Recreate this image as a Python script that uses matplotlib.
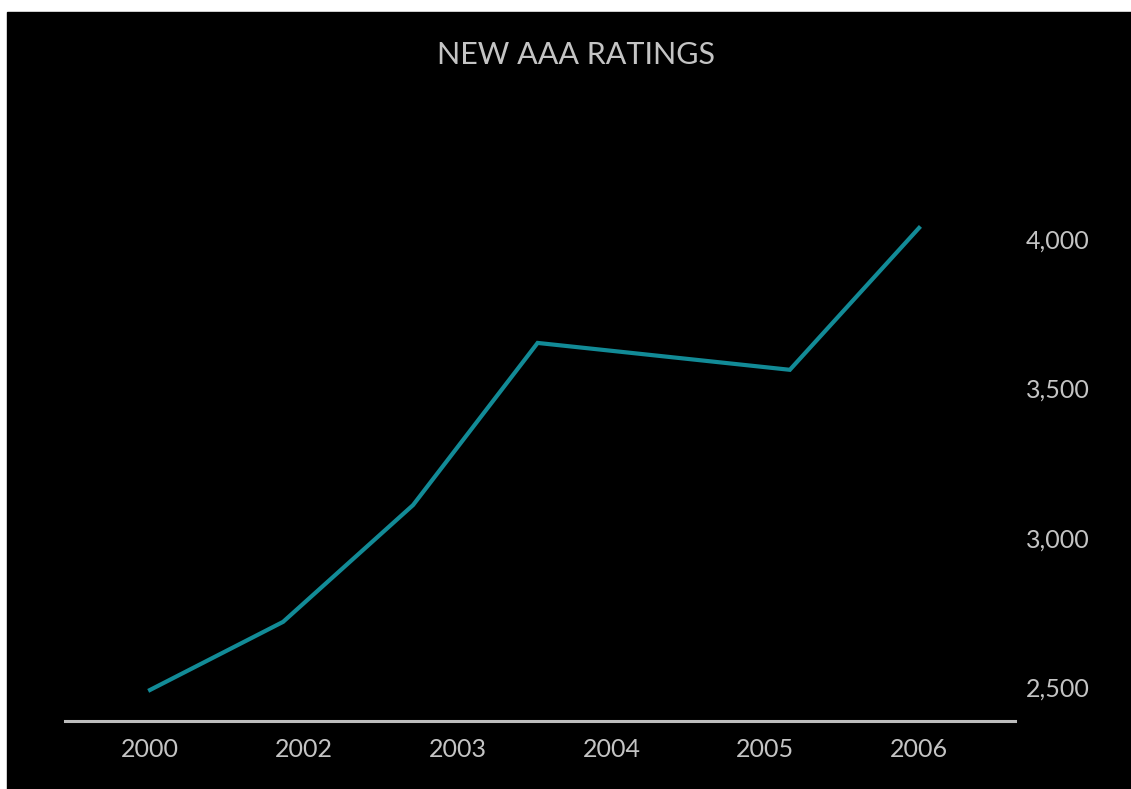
import matplotlib
matplotlib.use("Agg")
import matplotlib.pyplot as plt
from matplotlib.patches import Rectangle

plt.rcParams["font.family"] = ["Lato", "DejaVu Sans"]

# 新 AAA 评级数量（按年份刻度位置）
year_labels = ["2000", "2002", "2003", "2004", "2005", "2006"]
x_pos = [0.0, 0.865, 1.71, 2.52, 4.16, 5.0]
ratings = [2490, 2718, 3109, 3652, 3562, 4037]
y_ticks = [2500, 3000, 3500, 4000]

TEXT = "#c4c4c4"
LINE = "#128b97"

fig = plt.figure(figsize=(11.31, 7.89), dpi=100, facecolor="white")
# 黑色背景（左、上留白边），放在坐标轴下面
fig.patches.append(Rectangle((7 / 1131, 0), 1, 1 - 12 / 789,
                             transform=fig.transFigure, color="black", zorder=-10))

ax = fig.add_axes([65 / 1131, 68 / 789, (1015 - 65) / 1131, (721 - 150) / 789])
ax.set_facecolor("none")
ax.set_zorder(1)

ax.plot(x_pos, ratings, color=LINE, linewidth=3, solid_joinstyle="miter")

ax.set_xlim(-0.553, 5.624)
ax.set_ylim(2386, 4298)

ax.set_xticks(range(len(year_labels)))
ax.set_xticklabels(year_labels)
ax.set_yticks(y_ticks)
ax.set_yticklabels([f"{v:,}" for v in y_ticks])
ax.yaxis.tick_right()
ax.tick_params(axis="both", length=0, colors=TEXT, labelsize=18)
ax.tick_params(axis="x", pad=12)
ax.tick_params(axis="y", pad=8)

for side in ["top", "left", "right"]:
    ax.spines[side].set_visible(False)
ax.spines["bottom"].set_color("#bdbdbd")
ax.spines["bottom"].set_linewidth(2.2)

fig.text(576 / 1131, 1 - 55 / 789, "NEW AAA RATINGS", color=TEXT,
         fontsize=22, ha="center", va="center", zorder=2)

plt.savefig("out.png", dpi=100, facecolor=fig.get_facecolor())
